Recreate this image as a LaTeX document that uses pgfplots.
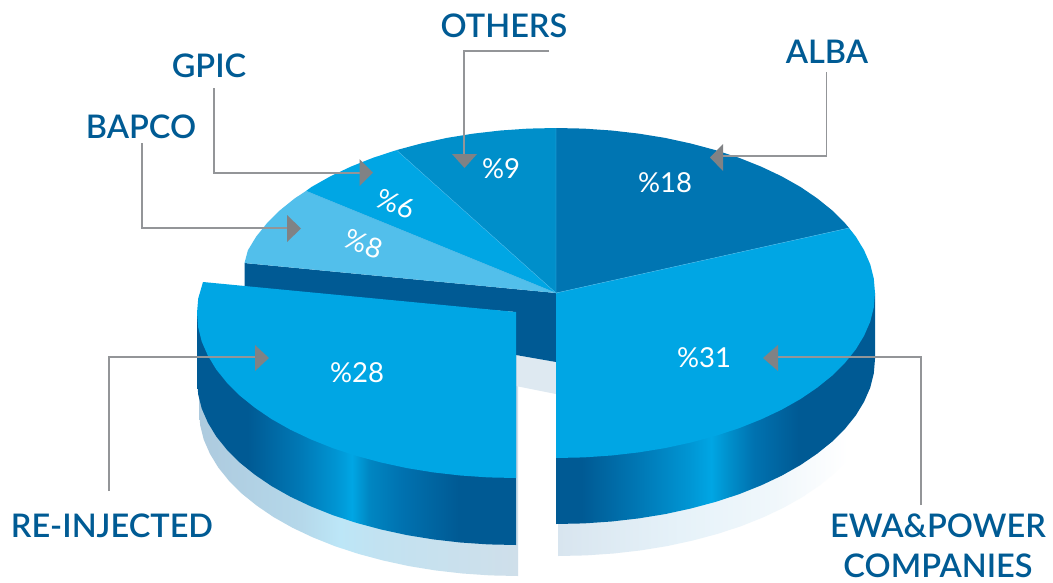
\documentclass[border=0pt]{standalone}
\usepackage{fontspec}
\setmainfont{Lato}
\newfontfamily\lblfont{Lato Semibold}
\usepackage{pgfplots}
\pgfplotsset{compat=1.18}
\definecolor{lab}{HTML}{005B94}
\definecolor{gline}{HTML}{939598}
\definecolor{gtri}{HTML}{808285}
\definecolor{dk}{HTML}{005A94}
\definecolor{seam}{HTML}{45B5E6}
\definecolor{ca}{HTML}{0078B5}
\definecolor{cb}{HTML}{0096D4}
\definecolor{cc}{HTML}{00A6E4}
\definecolor{cd}{HTML}{0090CC}
\definecolor{ce}{HTML}{0072B0}
\definecolor{cf}{HTML}{0086C2}
\definecolor{alba}{HTML}{0075B2}
\definecolor{oth}{HTML}{008FCA}
\definecolor{bap}{HTML}{52BFEB}
\pgfdeclarehorizontalshading{mainside}{100bp}{
 color(0bp)=(dk); color(25bp)=(dk); color(29bp)=(dk);
 color(38bp)=(ca);
 color(46bp)=(cb);
 color(49.3bp)=(cc);
 color(52bp)=(cd);
 color(56bp)=(ce);
 color(63bp)=(dk); color(100bp)=(dk)}
\pgfdeclarehorizontalshading{reside}{100bp}{
 color(0bp)=(dk); color(25bp)=(dk); color(33bp)=(dk);
 color(41bp)=(ca);
 color(47bp)=(cb);
 color(49.3bp)=(cc);
 color(52bp)=(cf);
 color(57bp)=(ce);
 color(66bp)=(dk); color(100bp)=(dk)}
\definecolor{sa}{HTML}{D8E5EF}\definecolor{sb}{HTML}{E6F2F9}\definecolor{sc}{HTML}{F0F7FB}
\definecolor{ra}{HTML}{ADCADE}\definecolor{rb}{HTML}{B5D8EA}\definecolor{rc}{HTML}{BCE6F7}\definecolor{rd}{HTML}{C2E2F1}\definecolor{re}{HTML}{CFDFEA}
\pgfdeclarehorizontalshading{mainshadow}{100bp}{
 color(0bp)=(sa); color(25bp)=(sa); color(45bp)=(sb); color(60bp)=(sc); color(72bp)=(white); color(100bp)=(white)}
\pgfdeclarehorizontalshading{reshadow}{100bp}{
 color(0bp)=(ra); color(25bp)=(ra); color(41bp)=(rb); color(47bp)=(rc); color(53bp)=(rd); color(75bp)=(re); color(100bp)=(re)}
\tikzset{
  lbl/.style={font=\fontsize{32.5}{35}\selectfont\lblfont,text=lab,inner sep=0pt},
  pct/.style={font=\fontsize{27.5}{30}\selectfont,text=white,inner sep=0pt},
  ln/.style={draw=gline,line width=1.2pt,fill=none,line join=miter},
  tri/.style={fill=gtri,draw=none},
}
\begin{document}
\begin{tikzpicture}
\begin{axis}[
  width=1053pt,height=582pt,scale only axis,
  xmin=0,xmax=1053,ymin=0,ymax=582,y dir=reverse,
  axis lines=none,clip=false,
]
\addplot[fill=white,draw=none] coordinates {(0,0)(1053,0)(1053,582)(0,582)} --cycle;
% shadows
\addplot[draw=none,shading=mainshadow] coordinates {(558,400)(558,556)(585.8,555.4)(613.5,553.5)(640.6,550.4)(667.1,546.1)(692.8,540.5)(717.5,533.9)(741,526.2)(763.1,517.4)(783.6,507.7)(802.4,497.1)(819.3,485.6)(834.3,473.5)(847.1,460.7)(857.8,447.4)(866.1,433.7)(866,400)} --cycle;
\addplot[draw=none,shading=reshadow] coordinates {(199,360)(199,411)(200.2,425.4)(203.8,439.7)(209.9,453.7)(218.2,467.4)(228.9,480.7)(241.7,493.5)(256.7,505.6)(273.6,517.1)(292.4,527.7)(312.9,537.4)(335,546.2)(358.5,553.9)(383.2,560.5)(408.9,566.1)(435.4,570.4)(462.5,573.5)(490.2,575.4)(518,576)(518,360)} --cycle;
\addplot[draw=none,fill=sa!85!white] coordinates {(516,355)(556,362)(556,394)(516,386)} --cycle;
% inner wall
\addplot[draw=none,fill=dk] coordinates {(244.5,263)(556,293)(556,362)(516,355)(516,312)(244.5,290)} --cycle;
% main side
\addplot[draw=none,shading=mainside] coordinates {(875,293)(875,359)(873.8,373.4)(870.2,387.7)(864.1,401.7)(855.8,415.4)(845.1,428.7)(832.3,441.5)(817.3,453.6)(800.4,465.1)(781.6,475.7)(761.1,485.4)(739,494.2)(715.5,501.9)(690.8,508.5)(665.1,514.1)(638.6,518.4)(611.5,521.5)(583.8,523.4)(556,524)(556,293)} --cycle;
% ALBA 18
\addplot[draw=none,fill=alba] coordinates {(556,293)(556,128)(583.8,128.6)(611.5,130.5)(638.6,133.6)(665.1,137.9)(690.8,143.5)(715.5,150.1)(739,157.8)(761.1,166.6)(781.6,176.3)(800.4,186.9)(817.3,198.4)(832.3,210.5)(845.1,223.3)(849,228)} --cycle;
% EWA 31
\addplot[draw=none,fill=cc] coordinates {(556,293)(849,228)(855.8,236.6)(864.1,250.3)(870.2,264.3)(873.8,278.6)(875,293)(873.8,307.4)(870.2,321.7)(864.1,335.7)(855.8,349.4)(845.1,362.7)(832.3,375.5)(817.3,387.6)(800.4,399.1)(781.6,409.7)(761.1,419.4)(739,428.2)(715.5,435.9)(690.8,442.5)(665.1,448.1)(638.6,452.4)(611.5,455.5)(583.8,457.4)(556,458)} --cycle;
% OTHERS 9
\addplot[draw=none,fill=oth] coordinates {(556,293)(556,128)(528.2,128.6)(500.5,130.5)(473.4,133.6)(446.9,137.9)(421.2,143.5)(396.5,150.1)} --cycle;
% GPIC 6
\addplot[draw=none,fill=cc] coordinates {(556,293)(396.5,150.1)(373,157.8)(350.9,166.6)(330.4,176.3)(311.6,186.9)(306,191)} --cycle;
% BAPCO 8
\addplot[draw=none,fill=bap] coordinates {(556,293)(306,191)(294.7,198.4)(279.7,210.5)(266.9,223.3)(256.2,236.6)(247.9,250.3)(244.5,263)} --cycle;
% seams
\addplot[draw=seam,line width=0.4pt] coordinates {(556,128)(556,293)(849,228)};
\addplot[draw=seam,line width=0.4pt] coordinates {(396.5,150.1)(556,293)(306,191)};
% re-injected side and top
\addplot[draw=none,shading=reside] coordinates {(197,313)(197,380)(198.2,394.4)(201.8,408.7)(207.9,422.7)(216.2,436.4)(226.9,449.7)(239.7,462.5)(254.7,474.6)(271.6,486.1)(290.4,496.7)(310.9,506.4)(333,515.2)(356.5,522.9)(381.2,529.5)(406.9,535.1)(433.4,539.4)(460.5,542.5)(488.2,544.4)(516,545)(516,313)} --cycle;
\addplot[draw=none,fill=cc] coordinates {(516,312)(203,282)(198.2,298.6)(197,313)(198.2,327.4)(201.8,341.7)(207.9,355.7)(216.2,369.4)(226.9,382.7)(239.7,395.5)(254.7,407.6)(271.6,419.1)(290.4,429.7)(310.9,439.4)(333,448.2)(356.5,455.9)(381.2,462.5)(406.9,468.1)(433.4,472.4)(460.5,475.5)(488.2,477.4)(516,478)} --cycle;
% leader lines
\addplot[ln] coordinates {(549,51)(464,51)(464,156)};
\addplot[tri] coordinates {(452,154)(477,154)(464.5,168)} --cycle;
\addplot[ln] coordinates {(214,88)(214,173)(360,173)};
\addplot[tri] coordinates {(359.5,159)(359.5,186)(373,172.5)} --cycle;
\addplot[ln] coordinates {(142,143)(142,228)(288,228)};
\addplot[tri] coordinates {(287,215)(287,242)(301,228.5)} --cycle;
\addplot[ln] coordinates {(826.5,72)(826.5,156)(722,156)};
\addplot[tri] coordinates {(723,144)(723,171)(710,157.5)} --cycle;
\addplot[ln] coordinates {(921,505)(921,357)(777,357)};
\addplot[tri] coordinates {(778,345)(778,371)(763,358)} --cycle;
\addplot[ln] coordinates {(109,491)(109,357)(256,357)};
\addplot[tri] coordinates {(255,345)(255,371)(269,358)} --cycle;
% labels
\node[lbl] at (axis cs:504,26) {OTHERS};
\node[lbl] at (axis cs:209,66) {GPIC};
\node[lbl] at (axis cs:141,127) {BAPCO};
\node[lbl] at (axis cs:827,52) {ALBA};
\node[lbl] at (axis cs:112,526) {RE-INJECTED};
\node[lbl] at (axis cs:938,526) {EWA\&POWER};
\node[lbl] at (axis cs:938,566) {COMPANIES};
\node[pct] at (axis cs:665,183) {\%18};
\node[pct] at (axis cs:704,358) {\%31};
\node[pct] at (axis cs:357,373) {\%28};
\node[pct] at (axis cs:501,169) {\%9};
\node[pct,rotate=-20] at (axis cs:396,204) {\%6};
\node[pct,rotate=-20] at (axis cs:364,244) {\%8};
\end{axis}
\end{tikzpicture}
\end{document}
